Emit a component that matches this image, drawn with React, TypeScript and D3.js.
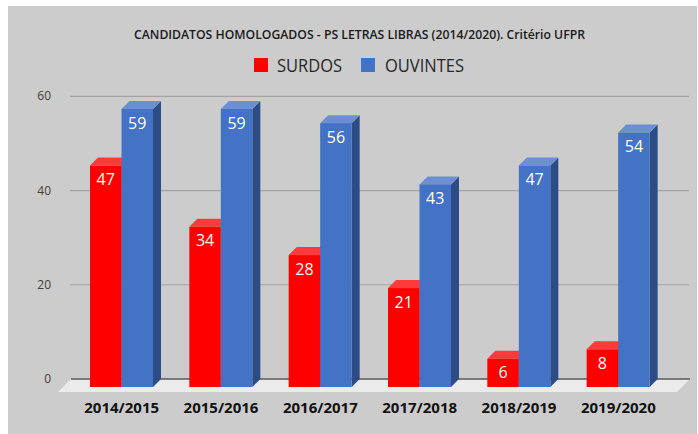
import React from "react";
import * as d3 from "d3";

const categories = ["2014/2015", "2015/2016", "2016/2017", "2017/2018", "2018/2019", "2019/2020"];
const surdos = [47, 34, 28, 21, 6, 8];
const ouvintes = [59, 59, 56, 43, 47, 54];
const yTicks = [0, 20, 40, 60];
const seriesNames = ["SURDOS", "OUVINTES"];

const W = 698;
const H = 434;
const DX = 8; // 3d depth offsets
const DY = 8;

const colors = {
  SURDOS: { front: "#ff0000", top: "#ff3a3a", side: "#b80000" },
  OUVINTES: { front: "#4472c4", top: "#6b8fd2", side: "#2c4c86" },
};

const App = () => {
  // front plane scales
  const x = d3.scaleBand<string>().domain(categories).range([72, 668]).padding(0);
  const x1 = d3.scaleBand<string>().domain(seriesNames).range([18, 81]).padding(0);
  const yF = d3.scaleLinear().domain([0, 59]).range([387, 109]);
  const yB = (v: number) => yF(v) - DY;

  const series = [
    { name: "SURDOS", values: surdos },
    { name: "OUVINTES", values: ouvintes },
  ];

  const font = "'Open Sans', sans-serif";

  return (
    <svg width={W} height={H} style={{ position: "absolute", left: 0, top: 0 }}>
      <rect x={0} y={0} width={W} height={H} fill="#fff" />
      <rect x={8} y={6} width={689} height={428} fill="#cccccc" />

      {/* title */}
      <text x={359.5} y={39} textAnchor="middle" fontFamily={font} fontSize={13} fontWeight={600}
        fill="#1a1a1a" textLength={451} lengthAdjust="spacingAndGlyphs">
        CANDIDATOS HOMOLOGADOS - PS LETRAS LIBRAS (2014/2020). Critério UFPR
      </text>

      {/* legend */}
      <rect x={254} y={58} width={14} height={14} fill={colors.SURDOS.front} />
      <text x={277} y={72} fontFamily={font} fontSize={18} fill="#262626" textLength={65} lengthAdjust="spacingAndGlyphs">SURDOS</text>
      <rect x={361} y={58} width={14} height={14} fill={colors.OUVINTES.front} />
      <text x={385} y={72} fontFamily={font} fontSize={18} fill="#262626" textLength={79} lengthAdjust="spacingAndGlyphs">OUVINTES</text>

      {/* back wall gridlines + y labels */}
      {yTicks.map((t) => (
        <g key={t}>
          {t > 0 && <line x1={70} x2={689} y1={yB(t)} y2={yB(t)} stroke="#a3a3a3" strokeWidth={1.2} />}
          <text x={51} y={yB(t)} dy="0.35em" textAnchor="end" fontFamily={font} fontSize={12} fill="#404040">{t}</text>
        </g>
      ))}

      {/* floor */}
      <polygon points={`71,${yB(0)} 690,${yB(0)} 677,392 58,392`} fill="#ebebeb" />
      <line x1={71} x2={690} y1={yB(0)} y2={yB(0)} stroke="#595959" strokeWidth={1.5} />

      {/* bars */}
      {categories.map((c, i) => (
        <g key={c}>
          {series.map((s) => {
            const v = s.values[i];
            const bx = (x(c) as number) + (x1(s.name) as number);
            const bw = x1.bandwidth();
            const yt = yF(v);
            const y0 = yF(0);
            const col = colors[s.name as keyof typeof colors];
            return (
              <g key={s.name}>
                <polygon points={`${bx + bw},${yt} ${bx + bw + DX},${yt - DY} ${bx + bw + DX},${y0 - DY} ${bx + bw},${y0}`} fill={col.side} />
                <polygon points={`${bx},${yt} ${bx + DX},${yt - DY} ${bx + bw + DX},${yt - DY} ${bx + bw},${yt}`} fill={col.top} />
                <rect x={bx} y={yt} width={bw} height={y0 - yt} fill={col.front} />
                <text x={bx + bw / 2} y={yt + 14} dy="0.35em" textAnchor="middle" fontFamily={font} fontSize={16} fill="#fff">{v}</text>
              </g>
            );
          })}
        </g>
      ))}

      {/* x labels */}
      {categories.map((c) => (
        <text key={c} x={(x(c) as number) + x.bandwidth() / 2} y={413} textAnchor="middle" fontFamily={font}
          fontSize={15} fontWeight={700} fill="#111">{c}</text>
      ))}
    </svg>
  );
};

export default App;
